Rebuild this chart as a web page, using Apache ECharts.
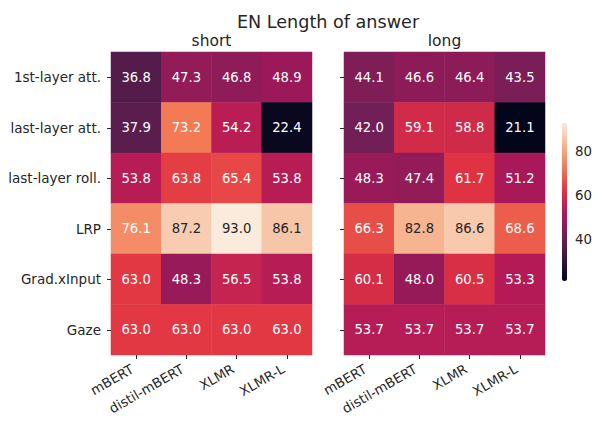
<!DOCTYPE html>
<html>
<head>
<meta charset="utf-8">
<script src="https://cdn.jsdelivr.net/npm/echarts@6/dist/echarts.min.js"></script>
<style>
html,body{margin:0;padding:0;background:#fff;}
#chart{width:595px;height:421px;}
</style>
</head>
<body>
<div id="chart"></div>
<script>
// ---- data ----
const rowLabels = ['1st-layer att.', 'last-layer att.', 'last-layer roll.', 'LRP', 'Grad.xInput', 'Gaze'];
const colLabels = ['mBERT', 'distil-mBERT', 'XLMR', 'XLMR-L'];
const shortValues = [
  [36.8, 47.3, 46.8, 48.9],
  [37.9, 73.2, 54.2, 22.4],
  [53.8, 63.8, 65.4, 53.8],
  [76.1, 87.2, 93.0, 86.1],
  [63.0, 48.3, 56.5, 53.8],
  [63.0, 63.0, 63.0, 63.0]
];
const longValues = [
  [44.1, 46.6, 46.4, 43.5],
  [42.0, 59.1, 58.8, 21.1],
  [48.3, 47.4, 61.7, 51.2],
  [66.3, 82.8, 86.6, 68.6],
  [60.1, 48.0, 60.5, 53.3],
  [53.7, 53.7, 53.7, 53.7]
];
const colorbarTicks = [40, 60, 80];
const mainTitle = 'EN Length of answer';
const panelTitles = ['short', 'long'];

// ---- build ----
const FONT = '"DejaVu Sans", sans-serif';
const TXT = '#262626';
const allVals = shortValues.flat().concat(longValues.flat());
const vmin = Math.min(...allVals), vmax = Math.max(...allVals);
const rocket = ['#03051a', '#35193e', '#701f57', '#ad1759', '#e13342', '#f37651', '#f6b48f', '#faebdd'];

function toData(vals) {
  const out = [];
  vals.forEach((row, r) => row.forEach((v, c) => {
    out.push({ value: [c, r, v], label: { color: v > 80 ? TXT : '#ffffff' } });
  }));
  return out;
}

const grids = [
  { left: 111, top: 52, width: 201, height: 303 },
  { left: 344, top: 52, width: 201, height: 303 },
  { left: 562, top: 123, width: 5, height: 158 }
];

function xAx(i) {
  return {
    type: 'category', gridIndex: i, data: colLabels, position: 'bottom',
    axisLine: { show: false },
    axisTick: { show: true, alignWithLabel: true, length: 4, lineStyle: { color: TXT, width: 1 } },
    axisLabel: { rotate: 30, margin: 11, padding: [0, 4, 0, 0], fontSize: 13.4, color: TXT, fontFamily: FONT, interval: 0 },
    splitLine: { show: false }
  };
}
function yAx(i, showLabel) {
  return {
    type: 'category', gridIndex: i, data: rowLabels, inverse: true,
    axisLine: { show: false },
    axisTick: { show: true, alignWithLabel: true, length: 4, lineStyle: { color: TXT, width: 1 } },
    axisLabel: { show: showLabel, margin: 10, fontSize: 13.5, color: TXT, fontFamily: FONT, interval: 0 },
    splitLine: { show: false }
  };
}

const option = {
  backgroundColor: '#ffffff',
  animation: false,
  title: [
    { text: mainTitle, left: 328, top: 13, textAlign: 'center', padding: 0,
      textStyle: { fontSize: 17.6, fontWeight: 'normal', color: TXT, fontFamily: FONT } },
    { text: panelTitles[0], left: 211.5, top: 33, textAlign: 'center', padding: 0,
      textStyle: { fontSize: 15.5, fontWeight: 'normal', color: TXT, fontFamily: FONT } },
    { text: panelTitles[1], left: 444.5, top: 33, textAlign: 'center', padding: 0,
      textStyle: { fontSize: 15.5, fontWeight: 'normal', color: TXT, fontFamily: FONT } }
  ],
  grid: grids,
  xAxis: [xAx(0), xAx(1), { type: 'value', gridIndex: 2, show: false }],
  yAxis: [yAx(0, true), yAx(1, false), {
    type: 'value', gridIndex: 2, min: vmin, max: vmax, position: 'right',
    axisLine: { show: false },
    axisTick: { show: true, length: 4, customValues: colorbarTicks, lineStyle: { color: TXT } },
    axisLabel: { margin: 8, fontSize: 13.3, color: TXT, fontFamily: FONT, customValues: colorbarTicks },
    splitLine: { show: false }
  }],
  visualMap: {
    type: 'continuous', min: vmin, max: vmax, calculable: false, show: true,
    orient: 'vertical', left: 562, top: 123, itemWidth: 5, itemHeight: 158,
    padding: 0, text: null, showLabel: false, hoverLink: false,
    inRange: { color: rocket }, seriesIndex: [0, 1]
  },
  series: [
    { type: 'heatmap', xAxisIndex: 0, yAxisIndex: 0, data: toData(shortValues),
      label: { show: true, fontSize: 13.2, fontFamily: FONT, formatter: p => p.value[2].toFixed(1) },
      itemStyle: { borderWidth: 0 }, emphasis: { disabled: true } },
    { type: 'heatmap', xAxisIndex: 1, yAxisIndex: 1, data: toData(longValues),
      label: { show: true, fontSize: 13.2, fontFamily: FONT, formatter: p => p.value[2].toFixed(1) },
      itemStyle: { borderWidth: 0 }, emphasis: { disabled: true } }
  ]
};

const chart = echarts.init(document.getElementById('chart'), null, { renderer: 'svg' });
chart.setOption(option);
</script>
</body>
</html>
